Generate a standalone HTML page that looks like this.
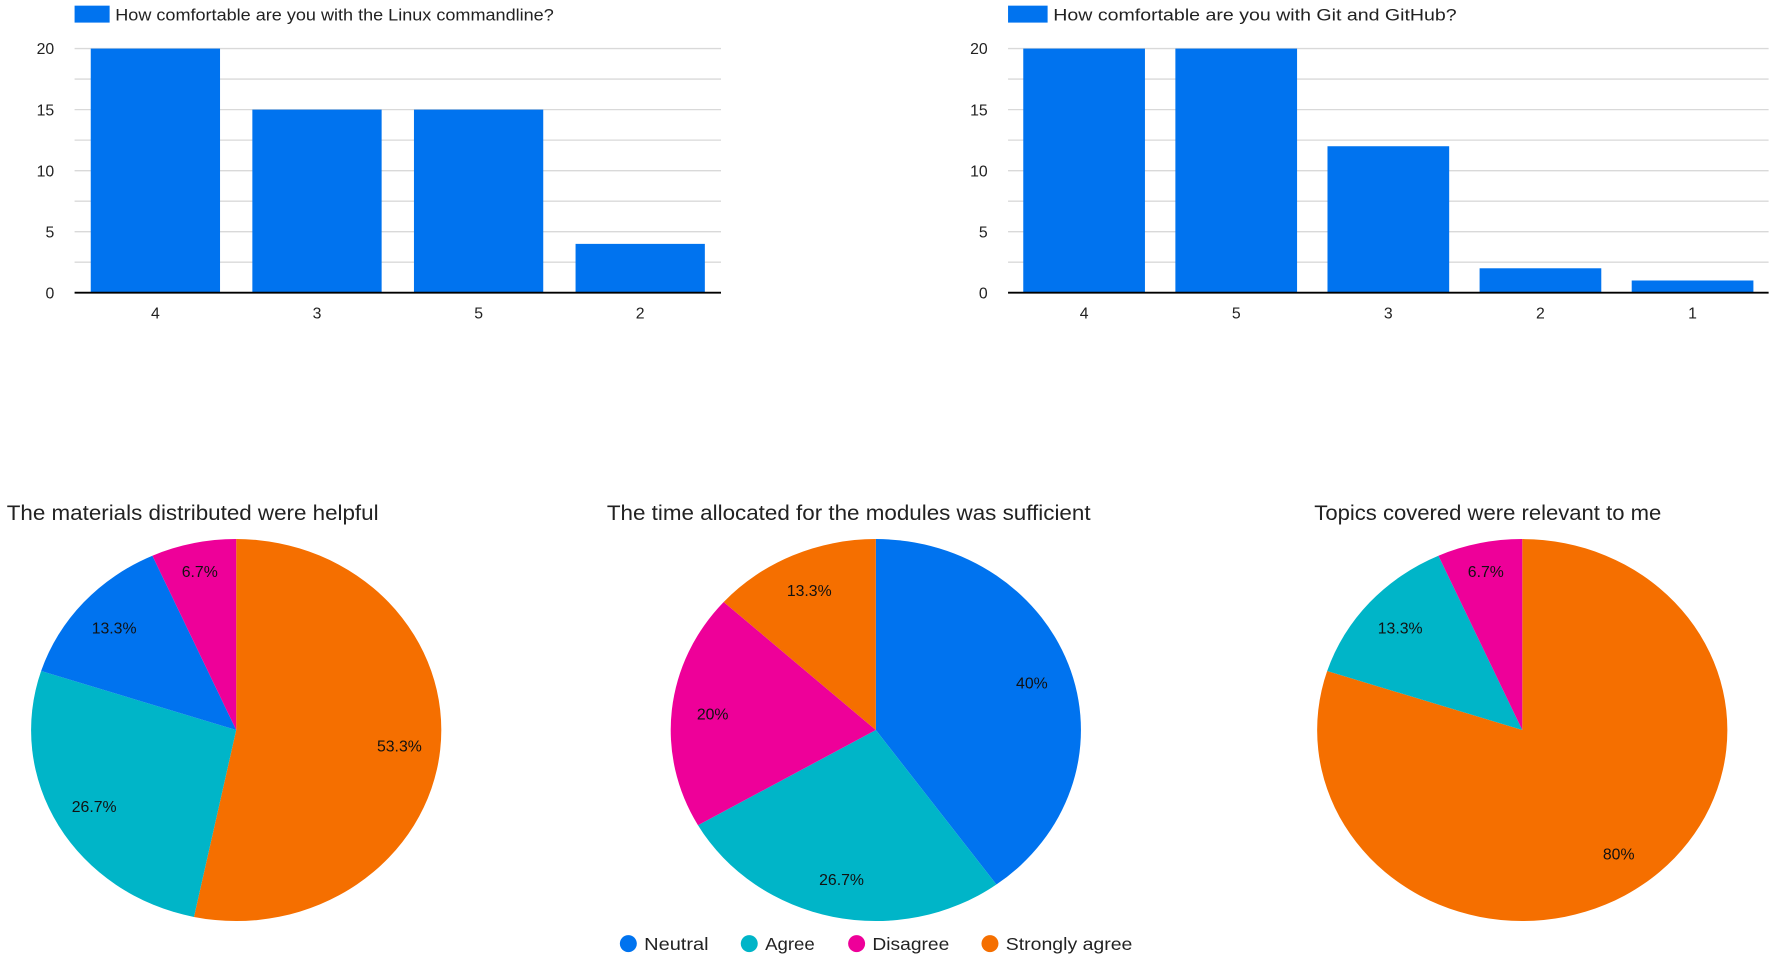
<!DOCTYPE html>
<html><head><meta charset="utf-8"><style>
html,body{margin:0;padding:0;background:#fff;}
svg{display:block;font-family:"Liberation Sans",sans-serif;}
</style></head><body>
<svg id="root" width="1772" height="959" viewBox="0 0 1568 848.6" preserveAspectRatio="none" xmlns="http://www.w3.org/2000/svg"></svg>
<script>
const linuxCats = ["4","3","5","2"];
const linuxVals = [20,15,15,4];
const gitCats = ["4","5","3","2","1"];
const gitVals = [20,20,12,2,1];
const yTicks = [0,5,10,15,20];
const pie1Labels = ["Strongly agree","Agree","Neutral","Disagree"];
const pie1Vals = [53.3,26.7,13.3,6.7];
const pie2Labels = ["Neutral","Agree","Disagree","Strongly agree"];
const pie2Vals = [40,26.7,20,13.3];
const pie3Labels = ["Strongly agree","Agree","Disagree"];
const pie3Vals = [80,13.3,6.7];
const legendLabels = ["Neutral","Agree","Disagree","Strongly agree"];

const COLORS = {"Neutral":"#0073ef","Agree":"#00b5c8","Disagree":"#ee0099","Strongly agree":"#f56f00"};
const NS="http://www.w3.org/2000/svg";
const root=document.getElementById('root');
function mk(tag,attrs,parent,text){const e=document.createElementNS(NS,tag);for(const k in attrs)e.setAttribute(k,attrs[k]);if(text!==undefined)e.textContent=text;(parent||root).appendChild(e);return e;}

function bar(cfg,cats,vals,name){
  const g=mk('g',{});
  
  
  const y=v=>cfg.y0-(v/20)*(cfg.y0-cfg.y20);
  for(let v=0;v<=20;v+=2.5){
    const l=mk('line',{x1:cfg.x0,x2:cfg.x1,y1:y(v),y2:y(v),stroke:'#d9d9d9','stroke-width':1.2},g);
    
    
  }
  yTicks.forEach(t=>{
    const tx=mk('text',{x:cfg.x0-18,y:y(t)+5,'text-anchor':'end','font-size':14,fill:'#222'},g,String(t));
    
    
  });
  const bw=(cfg.x1-cfg.x0)/cats.length;
  cats.forEach((c,i)=>{
    const cx=cfg.x0+bw*(i+0.5);
    const w=bw*cfg.frac;
    const r=mk('rect',{x:cx-w/2,y:y(vals[i]),width:w,height:y(0)-y(vals[i]),fill:'#0073ef'},g);
    
    
    const tx=mk('text',{x:cx,y:282,'text-anchor':'middle','font-size':14,fill:'#222'},g,c);
    
    
  });
  const ax=mk('line',{x1:cfg.x0,x2:cfg.x1,y1:y(0),y2:y(0),stroke:'#000','stroke-width':1.6},g);
  
  
  const sw=mk('rect',{x:cfg.x0,y:5,width:cfg.sw,height:15,fill:'#0073ef'},g);
  
  
  const lt=mk('text',{x:cfg.x0+cfg.sw+5,y:18,'font-size':14.5,fill:'#222',textLength:cfg.tl,lengthAdjust:'spacingAndGlyphs'},g,cfg.title);
  
  
}
bar({x0:66,x1:638,y0:259,y20:43,frac:0.8,sw:31,tl:388,title:"How comfortable are you with the Linux commandline?"},linuxCats,linuxVals,'linux-bar-chart');
bar({x0:892,x1:1565,y0:259,y20:43,frac:0.8,sw:35,tl:357,title:"How comfortable are you with Git and GitHub?"},gitCats,gitVals,'git-bar-chart');

function pie(cx,cy,rx,ry,labels,vals,title,tx,tl,name){
  const g=mk('g',{});
  
  
  const t=mk('text',{x:tx,y:460,'font-size':18.5,fill:'#222',textLength:tl,lengthAdjust:'spacingAndGlyphs'},g,title);
  
  
  const total=vals.reduce((a,b)=>a+b,0);
  let a=0;
  const pt=(ang,f)=>[cx+Math.sin(ang)*rx*f,cy-Math.cos(ang)*ry*f];
  labels.forEach((lab,i)=>{
    const a0=a/total*2*Math.PI; a+=vals[i]; const a1=a/total*2*Math.PI;
    const p0=pt(a0,1),p1=pt(a1,1);
    const large=(a1-a0)>Math.PI?1:0;
    const p=mk('path',{d:`M${cx},${cy}L${p0[0]},${p0[1]}A${rx},${ry} 0 ${large} 1 ${p1[0]},${p1[1]}Z`,fill:COLORS[lab]},g);
    
    
    const f=(a1-a0)<0.6?0.85:0.8;
    const m=pt((a0+a1)/2,f);
    const l=mk('text',{x:m[0],y:m[1]+5,'text-anchor':'middle','font-size':14,fill:'#111'},g,(Math.round(vals[i]*10)/10)+'%');
    
    
  });
}
pie(209,646,181.5,169,pie1Labels,pie1Vals,"The materials distributed were helpful",6,329,'materials-pie');
pie(775,646,181.5,169,pie2Labels,pie2Vals,"The time allocated for the modules was sufficient",537,428,'time-pie');
pie(1347,646,181.5,169,pie3Labels,pie3Vals,"Topics covered were relevant to me",1163,307,'topics-pie');

const lg=mk('g',{});


const lx=[556,663,758,876];
const lw=[57,44,68,112];
legendLabels.forEach((lab,i)=>{
  const c=mk('circle',{cx:lx[i],cy:835,r:7.5,fill:COLORS[lab]},lg);
  
  
  const t=mk('text',{x:lx[i]+14,y:840.5,'font-size':15.5,fill:'#222',textLength:lw[i],lengthAdjust:'spacingAndGlyphs'},lg,lab);
  
  
});
</script>
</body></html>
